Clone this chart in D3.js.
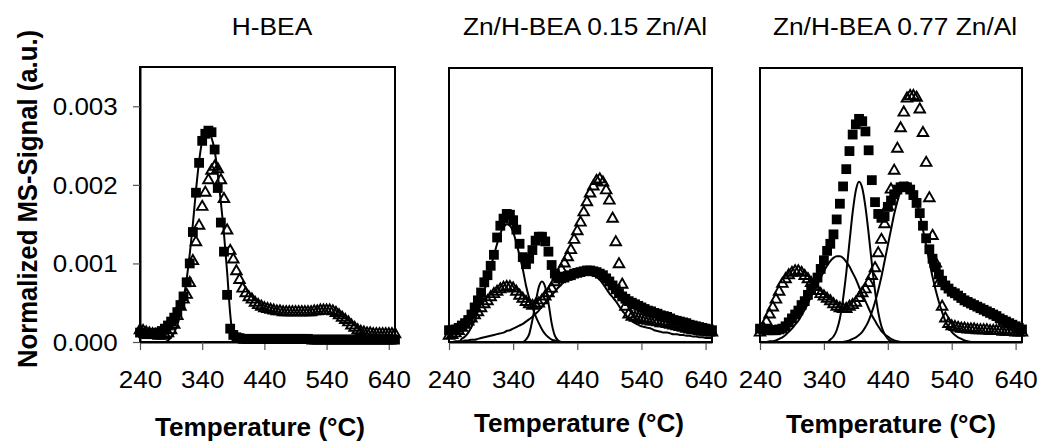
<!DOCTYPE html>
<html><head><meta charset="utf-8">
<script src="https://cdn.jsdelivr.net/npm/d3@7"></script>
<style>
html,body{margin:0;padding:0;background:#fff;}
svg{display:block;}
text{font-family:"Liberation Sans", Arial, Helvetica, sans-serif;fill:#000;}
</style></head><body>
<svg id="chart" width="1037" height="443"></svg>
<script>
// ---------- data ----------
const temperatures = d3.range(240, 651, 5); // 240 ... 650 °C, sampling grid
const xTickValues = [240, 340, 440, 540, 640];
const yTickValues = [0, 0.001, 0.002, 0.003];
const panelTitles = ["H-BEA", "Zn/H-BEA 0.15 Zn/Al", "Zn/H-BEA 0.77 Zn/Al"];
const xAxisTitle = "Temperature (°C)";
const yAxisTitle = "Normalized MS-Signal (a.u.)";

// Panel 1: H-BEA
const p1Squares = [
 0.00012,0.00011,0.00010,0.00010,0.00010,0.00011,0.00012,0.00014,0.00017,0.00021,
 0.00026,0.00031,0.00038,0.00047,0.00058,0.00076,0.00100,0.00140,0.00190,0.00228,
 0.00256,0.00265,0.00269,0.00267,0.00245,0.00196,0.00152,0.00115,0.00060,0.00017,
 0.00009,0.00006,0.00005,0.00004,0.00004,0.00004,0.00004,0.00004,0.00004,0.00004,
 0.00004,0.00004,0.00004,0.00004,0.00004,0.00004,0.00004,0.00004,0.00004,0.00004,
 0.00004,0.00004,0.00004,0.00004,0.00004,0.00003,0.00003,0.00003,0.00003,0.00003,
 0.00003,0.00003,0.00003,0.00003,0.00003,0.00003,0.00003,0.00003,0.00003,0.00003,
 0.00003,0.00003,0.00003,0.00003,0.00003,0.00003,0.00003,0.00003,0.00003,0.00003,
 0.00003,0.00003,0.00003];
const p1Triangles = [
 0.00015,0.00014,0.00012,0.00011,0.00010,0.00009,0.00008,0.00008,0.00009,0.00011,
 0.00015,0.00022,0.00033,0.00045,0.00054,0.00060,0.00075,0.00103,0.00127,0.00148,
 0.00172,0.00190,0.00206,0.00218,0.00223,0.00220,0.00206,0.00182,0.00142,0.00116,
 0.00105,0.00090,0.00079,0.00068,0.00062,0.00057,0.00054,0.00050,0.00047,0.00045,
 0.00043,0.00042,0.00041,0.00040,0.00039,0.00039,0.00038,0.00038,0.00038,0.00038,
 0.00038,0.00038,0.00038,0.00038,0.00038,0.00038,0.00039,0.00039,0.00040,0.00040,
 0.00040,0.00040,0.00039,0.00037,0.00034,0.00031,0.00028,0.00025,0.00021,0.00018,
 0.00015,0.00013,0.00012,0.00011,0.00011,0.00010,0.00010,0.00010,0.00010,0.00010,
 0.00010,0.00010,0.00010];
const p1Fit = [
 0,0,0,0,0,0,0,0,0,0.00002,
 0.00006,0.00012,0.00022,0.00036,0.00055,0.00080,0.00112,0.00150,0.00193,0.00230,
 0.00256,0.00267,0.00268,0.00260,0.00244,0.00214,0.00178,0.00138,0.00090,0.00036,
 0.00005,0,0,0,0,0,0,0,0,0,
 0,0,0,0,0,0,0,0,0,0,
 0,0,0,0,0,0,0,0,0,0,
 0,0,0,0,0,0,0,0,0,0,
 0,0,0,0,0,0,0,0,0,0,
 0,0,0];

// Panel 2: Zn/H-BEA 0.15 Zn/Al
const p2Squares = [
 0.00015,0.00015,0.00016,0.00018,0.00021,0.00024,0.00028,0.00035,0.00044,0.00053,
 0.00063,0.00076,0.00085,0.00097,0.00111,0.00133,0.00148,0.00157,0.00163,0.00162,
 0.00155,0.00143,0.00125,0.00108,0.00099,0.00106,0.00117,0.00129,0.00134,0.00134,
 0.00128,0.00115,0.00098,0.00087,0.00081,0.00081,0.00082,0.00084,0.00085,0.00087,
 0.00088,0.00089,0.00090,0.00091,0.00091,0.00090,0.00089,0.00087,0.00085,0.00081,
 0.00077,0.00072,0.00067,0.00062,0.00058,0.00055,0.00052,0.00050,0.00048,0.00046,
 0.00044,0.00042,0.00040,0.00039,0.00037,0.00036,0.00034,0.00033,0.00032,0.00030,
 0.00028,0.00027,0.00026,0.00025,0.00024,0.00022,0.00021,0.00020,0.00019,0.00018,
 0.00017,0.00016,0.00015];
const p2Triangles = [
 0.00008,0.00009,0.00011,0.00014,0.00018,0.00022,0.00026,0.00030,0.00034,0.00038,
 0.00043,0.00048,0.00052,0.00057,0.00061,0.00064,0.00067,0.00069,0.00070,0.00070,
 0.00068,0.00064,0.00059,0.00055,0.00051,0.00048,0.00046,0.00047,0.00049,0.00053,
 0.00058,0.00062,0.00068,0.00076,0.00084,0.00092,0.00100,0.00108,0.00117,0.00130,
 0.00141,0.00152,0.00165,0.00178,0.00189,0.00198,0.00205,0.00207,0.00203,0.00193,
 0.00180,0.00157,0.00127,0.00099,0.00073,0.00045,0.00035,0.00032,0.00031,0.00030,
 0.00029,0.00028,0.00027,0.00026,0.00026,0.00025,0.00024,0.00024,0.00023,0.00022,
 0.00021,0.00020,0.00019,0.00018,0.00017,0.00016,0.00015,0.00015,0.00014,0.00013,
 0.00013,0.00012,0.00012];
const p2Fit1 = [
 0,0,0,0,0.00004,0.00007,0.00012,0.00019,0.00028,0.00039,
 0.00051,0.00065,0.00080,0.00095,0.00110,0.00125,0.00138,0.00146,0.00150,0.00148,
 0.00140,0.00126,0.00110,0.00093,0.00072,0.00056,0.00044,0.00033,0.00024,0.00016,
 0.00010,0.00006,0.00003,0.00002,0.00001,0,0,0,0,0,
 0,0,0,0,0,0,0,0,0,0,
 0,0,0,0,0,0,0,0,0,0,
 0,0,0,0,0,0,0,0,0,0,
 0,0,0,0,0,0,0,0,0,0,
 0,0,0];
const p2Fit2 = [
 0,0,0,0,0,0,0,0,0,0,
 0,0,0,0,0,0,0,0,0,0,
 0,0,0,0,0.00003,0.00010,0.00028,0.00050,0.00070,0.00077,
 0.00070,0.00050,0.00024,0.00008,0.00002,0,0,0,0,0,
 0,0,0,0,0,0,0,0,0,0,
 0,0,0,0,0,0,0,0,0,0,
 0,0,0,0,0,0,0,0,0,0,
 0,0,0,0,0,0,0,0,0,0,
 0,0,0];
const p2Fit3 = [
 0,0,0.00001,0.00001,0.00001,0.00002,0.00002,0.00003,0.00003,0.00004,
 0.00005,0.00006,0.00007,0.00008,0.00009,0.00010,0.00011,0.00012,0.00014,0.00015,
 0.00017,0.00019,0.00021,0.00023,0.00026,0.00029,0.00032,0.00036,0.00040,0.00045,
 0.00050,0.00055,0.00060,0.00064,0.00069,0.00073,0.00077,0.00080,0.00083,0.00085,
 0.00087,0.00088,0.00089,0.00089,0.00088,0.00086,0.00083,0.00079,0.00074,0.00068,
 0.00062,0.00057,0.00052,0.00046,0.00040,0.00035,0.00030,0.00027,0.00024,0.00022,
 0.00020,0.00019,0.00018,0.00017,0.00015,0.00014,0.00013,0.00012,0.00012,0.00011,
 0.00010,0.00010,0.00009,0.00009,0.00008,0.00008,0.00007,0.00007,0.00006,0.00006,
 0.00005,0.00005,0.00005];

// Panel 3: Zn/H-BEA 0.77 Zn/Al
const p3Squares = [
 0.00017,0.00016,0.00015,0.00015,0.00015,0.00015,0.00016,0.00017,0.00020,0.00025,
 0.00030,0.00035,0.00040,0.00047,0.00052,0.00060,0.00068,0.00074,0.00082,0.00093,
 0.00104,0.00116,0.00125,0.00137,0.00156,0.00176,0.00198,0.00220,0.00243,0.00264,
 0.00277,0.00284,0.00281,0.00268,0.00244,0.00206,0.00178,0.00163,0.00158,0.00160,
 0.00172,0.00180,0.00188,0.00194,0.00197,0.00198,0.00197,0.00194,0.00187,0.00177,
 0.00164,0.00148,0.00132,0.00118,0.00106,0.00095,0.00086,0.00078,0.00072,0.00068,
 0.00064,0.00062,0.00059,0.00056,0.00053,0.00051,0.00049,0.00047,0.00045,0.00043,
 0.00041,0.00039,0.00037,0.00035,0.00033,0.00030,0.00028,0.00026,0.00024,0.00022,
 0.00020,0.00018,0.00016];
const p3Triangles = [
 0.00012,0.00018,0.00026,0.00035,0.00044,0.00054,0.00064,0.00074,0.00080,0.00085,
 0.00088,0.00090,0.00090,0.00088,0.00084,0.00080,0.00075,0.00070,0.00065,0.00061,
 0.00058,0.00055,0.00052,0.00048,0.00045,0.00043,0.00042,0.00042,0.00045,0.00047,
 0.00050,0.00056,0.00062,0.00067,0.00075,0.00084,0.00094,0.00113,0.00130,0.00150,
 0.00172,0.00194,0.00218,0.00246,0.00272,0.00292,0.00310,0.00313,0.00313,0.00311,
 0.00296,0.00266,0.00228,0.00183,0.00135,0.00100,0.00075,0.00045,0.00030,0.00023,
 0.00020,0.00019,0.00018,0.00017,0.00017,0.00016,0.00016,0.00016,0.00015,0.00015,
 0.00015,0.00015,0.00014,0.00014,0.00014,0.00014,0.00013,0.00013,0.00013,0.00013,
 0.00012,0.00012,0.00012];
const p3Fit1 = [
 0,0,0,0.00001,0.00001,0.00002,0.00004,0.00006,0.00009,0.00013,
 0.00017,0.00022,0.00027,0.00034,0.00041,0.00049,0.00058,0.00066,0.00074,0.00082,
 0.00090,0.00097,0.00103,0.00107,0.00109,0.00109,0.00107,0.00102,0.00096,0.00088,
 0.00080,0.00070,0.00061,0.00052,0.00043,0.00034,0.00027,0.00020,0.00014,0.00010,
 0.00007,0.00004,0.00002,0.00001,0,0,0,0,0,0,
 0,0,0,0,0,0,0,0,0,0,
 0,0,0,0,0,0,0,0,0,0,
 0,0,0,0,0,0,0,0,0,0,
 0,0,0];
const p3Fit2 = [
 0,0,0,0,0,0,0,0,0,0,
 0,0,0,0,0,0,0,0,0,0,
 0,0,0.00003,0.00007,0.00015,0.00030,0.00055,0.00088,0.00127,0.00165,
 0.00193,0.00204,0.00196,0.00172,0.00138,0.00100,0.00065,0.00038,0.00020,0.00010,
 0.00004,0.00001,0,0,0,0,0,0,0,0,
 0,0,0,0,0,0,0,0,0,0,
 0,0,0,0,0,0,0,0,0,0,
 0,0,0,0,0,0,0,0,0,0,
 0,0,0];
const p3Fit3 = [
 0,0,0,0,0,0,0,0,0,0,
 0,0,0,0,0,0,0,0,0,0,
 0,0,0,0,0,0,0,0.00001,0.00002,0.00004,
 0.00006,0.00009,0.00013,0.00019,0.00027,0.00038,0.00051,0.00066,0.00083,0.00103,
 0.00123,0.00143,0.00163,0.00179,0.00192,0.00200,0.00203,0.00200,0.00192,0.00179,
 0.00163,0.00143,0.00123,0.00103,0.00083,0.00066,0.00051,0.00038,0.00027,0.00019,
 0.00013,0.00009,0.00006,0.00004,0.00002,0.00001,0,0,0,0,
 0,0,0,0,0,0,0,0,0,0,
 0,0,0];

// ---------- layout ----------
const plotBottom = 342;
const panels = [
  {title: panelTitles[0], squares: p1Squares, triangles: p1Triangles, fits: [p1Fit],
   left: 140, right: 395, top: 67, titleX: 272, xLabelX: 260, xLabelY: 436, yAxis: true},
  {title: panelTitles[1], squares: p2Squares, triangles: p2Triangles, fits: [p2Fit1, p2Fit2, p2Fit3],
   left: 449, right: 712, top: 68, titleX: 585, xLabelX: 579, xLabelY: 432, yAxis: false},
  {title: panelTitles[2], squares: p3Squares, triangles: p3Triangles, fits: [p3Fit1, p3Fit2, p3Fit3],
   left: 760, right: 1022, top: 68, titleX: 895, xLabelX: 891, xLabelY: 433, yAxis: false}
];

const svg = d3.select("#chart");
const y = d3.scaleLinear().domain([0, 0.0035]).range([plotBottom, 67]);

const squareSym = d3.symbol().type(d3.symbolSquare).size(96)();
const triSym = d3.symbol().type(d3.symbolTriangle).size(48)();

panels.forEach(p => {
  const x = d3.scaleLinear().domain([240, 650]).range([p.left, p.right]);
  const g = svg.append("g");

  // frame
  g.append("rect")
    .attr("x", p.left).attr("y", p.top)
    .attr("width", p.right - p.left).attr("height", plotBottom - p.top)
    .attr("fill", "none").attr("stroke", "#000").attr("stroke-width", 2);

  // x axis
  const xAxis = g.append("g")
    .attr("transform", `translate(0,${plotBottom})`)
    .call(d3.axisBottom(x).tickValues(xTickValues).tickFormat(d3.format("d"))
      .tickSize(8).tickSizeOuter(0).tickPadding(21));
  xAxis.select(".domain").attr("stroke", "#000").attr("stroke-width", 2.2);
  xAxis.selectAll(".tick line").attr("stroke", "#555").attr("stroke-width", 1.2);
  xAxis.selectAll(".tick text")
    .attr("font-size", 24.5).attr("font-family", null)
    .attr("transform", "scale(1.06,1)");

  if (p.yAxis) {
    const yAxis = g.append("g")
      .attr("transform", `translate(${p.left},0)`)
      .call(d3.axisLeft(y).tickValues(yTickValues).tickFormat(d3.format(".3f"))
        .tickSize(7).tickSizeOuter(0).tickPadding(14));
    yAxis.select(".domain").attr("stroke", "#000").attr("stroke-width", 2);
    yAxis.selectAll(".tick line").attr("stroke", "#555").attr("stroke-width", 1.2);
    yAxis.selectAll(".tick text")
      .attr("font-size", 24.5).attr("font-family", null)
      .attr("dy", "0.34em")
      .attr("transform", "scale(1.06,1)");
  }

  // squares (filled)
  g.append("g").selectAll("path")
    .data(temperatures.map((t, i) => [t, p.squares[i]]))
    .join("path")
    .attr("d", squareSym)
    .attr("transform", d => `translate(${x(d[0])},${y(d[1])})`)
    .attr("fill", "#000");

  // triangles (open)
  g.append("g").selectAll("path")
    .data(temperatures.map((t, i) => [t, p.triangles[i]]))
    .join("path")
    .attr("d", triSym)
    .attr("transform", d => `translate(${x(d[0])},${y(d[1])})`)
    .attr("fill", "none").attr("stroke", "#000").attr("stroke-width", 1.9);

  // fitted components
  const line = d3.line().x(d => x(d[0])).y(d => y(d[1])).curve(d3.curveMonotoneX);
  p.fits.forEach(f => {
    g.append("path")
      .attr("d", line(temperatures.map((t, i) => [t, f[i]])))
      .attr("fill", "none").attr("stroke", "#000").attr("stroke-width", 2);
  });

  // title
  g.append("text")
    .attr("transform", `translate(${p.titleX},35) scale(1.12,1)`)
    .attr("text-anchor", "middle").attr("font-size", 23.5)
    .text(p.title);

  // x axis title
  g.append("text")
    .attr("transform", `translate(${p.xLabelX},${p.xLabelY}) scale(1.045,1)`)
    .attr("text-anchor", "middle").attr("font-size", 25).attr("font-weight", "bold")
    .text(xAxisTitle);
});

// y axis title
svg.append("text")
  .attr("transform", "translate(37,199) rotate(-90) scale(1,1.1)")
  .attr("text-anchor", "middle").attr("font-size", 25.7).attr("font-weight", "bold")
  .text(yAxisTitle);
</script>
</body></html>
